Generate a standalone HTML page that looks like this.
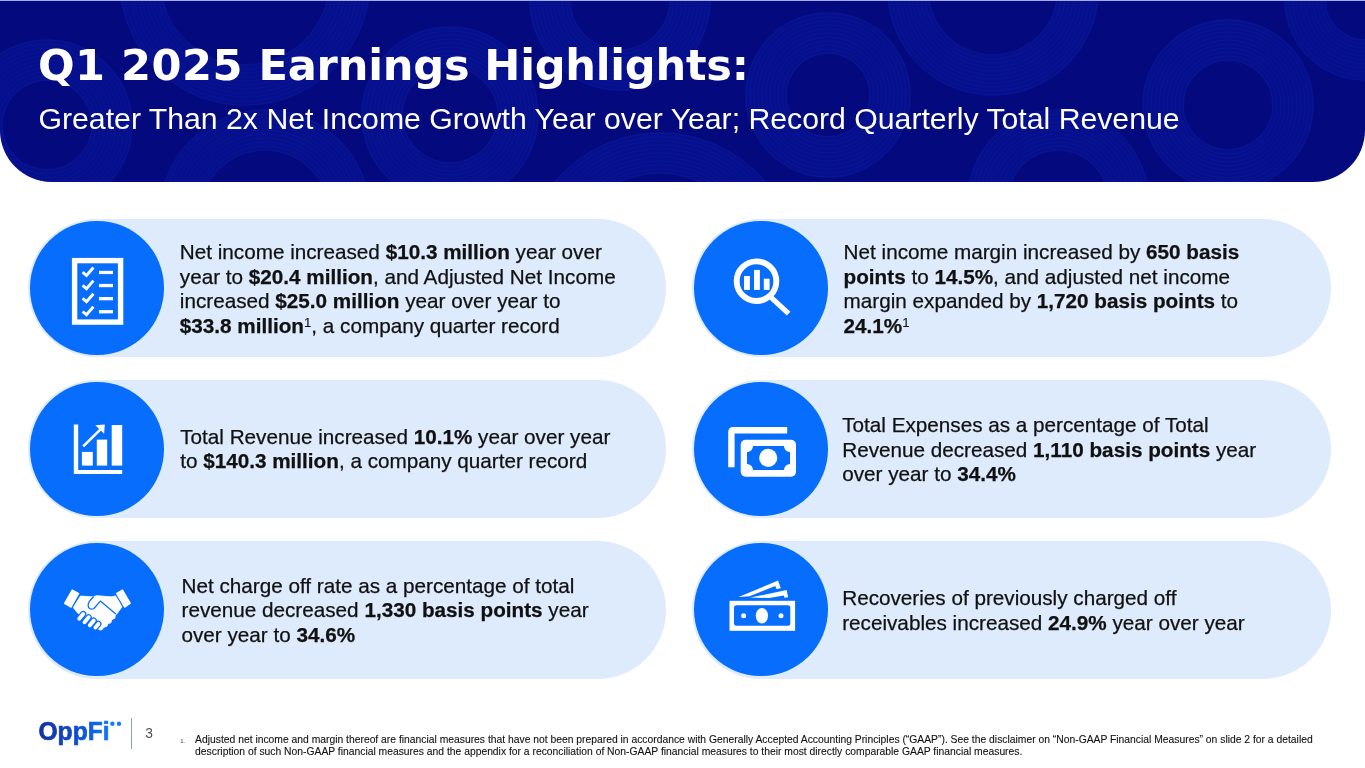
<!DOCTYPE html>
<html lang="en">
<head>
<meta charset="utf-8">
<title>Q1 2025 Earnings Highlights</title>
<style>
html,body{margin:0;padding:0;}
body{width:1365px;height:768px;position:relative;overflow:hidden;background:#fff;font-family:"Liberation Sans",sans-serif;color:#111;}
.hdr{position:absolute;left:0;top:0;width:1365px;height:182.4px;background:#040a7e;border-radius:0 0 52px 52px;overflow:hidden;}
.hdr svg{position:absolute;left:0;top:0;}
h1{position:absolute;left:37.9px;top:38.9px;margin:0;font-family:"DejaVu Sans","Liberation Sans",sans-serif;font-weight:bold;font-size:43.15px;line-height:52px;color:#fff;white-space:nowrap;letter-spacing:0;}
h2{position:absolute;left:38.5px;top:102.2px;margin:0;font-weight:normal;font-size:30.23px;line-height:34px;color:#fff;white-space:nowrap;}
.card{position:absolute;width:637.2px;height:137.3px;background:#deebfc;border-radius:68.65px;}
.circ{position:absolute;width:133.3px;height:133.3px;border-radius:50%;background:#066dfd;}
.txt{position:absolute;font-size:20.7px;line-height:24.77px;white-space:nowrap;color:#111;}
.txt b{font-weight:bold;}
.txt{-webkit-text-stroke:0.25px #111;}
.fn{-webkit-text-stroke:0.1px #111;}
.txt sup{font-size:13.2px;line-height:0;vertical-align:baseline;position:relative;top:-6px;-webkit-text-stroke:0.1px #111;}
#icons{position:absolute;left:0;top:0;}
.logo{position:absolute;left:38px;top:717px;font-weight:bold;font-size:24.5px;line-height:30px;white-space:nowrap;letter-spacing:-0.3px;background:linear-gradient(90deg,#0a2a9c 0%,#0b4fd8 55%,#1a7bff 100%);-webkit-background-clip:text;background-clip:text;color:transparent;}
.vbar{position:absolute;left:131px;top:718px;width:1px;height:31px;background:#8fa0bd;}
.pg{position:absolute;left:145.3px;top:727px;font-size:13.8px;line-height:14px;color:#505050;}
.fnn{position:absolute;left:180.3px;top:736.8px;font-size:6px;line-height:8px;color:#444;}
.fn{position:absolute;left:195.1px;top:734.1px;font-size:10.33px;line-height:12.3px;white-space:nowrap;color:#111;}
</style>
</head>
<body>
<div class="hdr">
<svg width="1365" height="183" viewBox="0 0 1365 183" fill="none">
<g stroke="#0e22ab" stroke-opacity="0.3" stroke-width="42">
<circle cx="47" cy="125" r="65"/>
<circle cx="245" cy="-20" r="105"/>
<circle cx="265" cy="215" r="85"/>
<circle cx="450" cy="115" r="68"/>
<circle cx="620" cy="0" r="70"/>
<circle cx="660" cy="270" r="117"/>
<circle cx="828" cy="95" r="62"/>
<circle cx="993" cy="-10" r="85"/>
<circle cx="1058" cy="200" r="70"/>
<circle cx="1228" cy="105" r="65"/>
<circle cx="1365" cy="0" r="60"/>
</g>
<g stroke="#2435cc" stroke-opacity="0.15" stroke-width="1">
<circle cx="47" cy="125" r="45"/>
<circle cx="47" cy="125" r="49"/>
<circle cx="47" cy="125" r="53"/>
<circle cx="47" cy="125" r="57"/>
<circle cx="47" cy="125" r="61"/>
<circle cx="47" cy="125" r="65"/>
<circle cx="47" cy="125" r="69"/>
<circle cx="47" cy="125" r="73"/>
<circle cx="47" cy="125" r="77"/>
<circle cx="47" cy="125" r="81"/>
<circle cx="47" cy="125" r="85"/>
<circle cx="245" cy="-20" r="85"/>
<circle cx="245" cy="-20" r="89"/>
<circle cx="245" cy="-20" r="93"/>
<circle cx="245" cy="-20" r="97"/>
<circle cx="245" cy="-20" r="101"/>
<circle cx="245" cy="-20" r="105"/>
<circle cx="245" cy="-20" r="109"/>
<circle cx="245" cy="-20" r="113"/>
<circle cx="245" cy="-20" r="117"/>
<circle cx="245" cy="-20" r="121"/>
<circle cx="245" cy="-20" r="125"/>
<circle cx="265" cy="215" r="65"/>
<circle cx="265" cy="215" r="69"/>
<circle cx="265" cy="215" r="73"/>
<circle cx="265" cy="215" r="77"/>
<circle cx="265" cy="215" r="81"/>
<circle cx="265" cy="215" r="85"/>
<circle cx="265" cy="215" r="89"/>
<circle cx="265" cy="215" r="93"/>
<circle cx="265" cy="215" r="97"/>
<circle cx="265" cy="215" r="101"/>
<circle cx="265" cy="215" r="105"/>
<circle cx="450" cy="115" r="48"/>
<circle cx="450" cy="115" r="52"/>
<circle cx="450" cy="115" r="56"/>
<circle cx="450" cy="115" r="60"/>
<circle cx="450" cy="115" r="64"/>
<circle cx="450" cy="115" r="68"/>
<circle cx="450" cy="115" r="72"/>
<circle cx="450" cy="115" r="76"/>
<circle cx="450" cy="115" r="80"/>
<circle cx="450" cy="115" r="84"/>
<circle cx="450" cy="115" r="88"/>
<circle cx="620" cy="0" r="50"/>
<circle cx="620" cy="0" r="54"/>
<circle cx="620" cy="0" r="58"/>
<circle cx="620" cy="0" r="62"/>
<circle cx="620" cy="0" r="66"/>
<circle cx="620" cy="0" r="70"/>
<circle cx="620" cy="0" r="74"/>
<circle cx="620" cy="0" r="78"/>
<circle cx="620" cy="0" r="82"/>
<circle cx="620" cy="0" r="86"/>
<circle cx="620" cy="0" r="90"/>
<circle cx="660" cy="270" r="97"/>
<circle cx="660" cy="270" r="101"/>
<circle cx="660" cy="270" r="105"/>
<circle cx="660" cy="270" r="109"/>
<circle cx="660" cy="270" r="113"/>
<circle cx="660" cy="270" r="117"/>
<circle cx="660" cy="270" r="121"/>
<circle cx="660" cy="270" r="125"/>
<circle cx="660" cy="270" r="129"/>
<circle cx="660" cy="270" r="133"/>
<circle cx="660" cy="270" r="137"/>
<circle cx="828" cy="95" r="42"/>
<circle cx="828" cy="95" r="46"/>
<circle cx="828" cy="95" r="50"/>
<circle cx="828" cy="95" r="54"/>
<circle cx="828" cy="95" r="58"/>
<circle cx="828" cy="95" r="62"/>
<circle cx="828" cy="95" r="66"/>
<circle cx="828" cy="95" r="70"/>
<circle cx="828" cy="95" r="74"/>
<circle cx="828" cy="95" r="78"/>
<circle cx="828" cy="95" r="82"/>
<circle cx="993" cy="-10" r="65"/>
<circle cx="993" cy="-10" r="69"/>
<circle cx="993" cy="-10" r="73"/>
<circle cx="993" cy="-10" r="77"/>
<circle cx="993" cy="-10" r="81"/>
<circle cx="993" cy="-10" r="85"/>
<circle cx="993" cy="-10" r="89"/>
<circle cx="993" cy="-10" r="93"/>
<circle cx="993" cy="-10" r="97"/>
<circle cx="993" cy="-10" r="101"/>
<circle cx="993" cy="-10" r="105"/>
<circle cx="1058" cy="200" r="50"/>
<circle cx="1058" cy="200" r="54"/>
<circle cx="1058" cy="200" r="58"/>
<circle cx="1058" cy="200" r="62"/>
<circle cx="1058" cy="200" r="66"/>
<circle cx="1058" cy="200" r="70"/>
<circle cx="1058" cy="200" r="74"/>
<circle cx="1058" cy="200" r="78"/>
<circle cx="1058" cy="200" r="82"/>
<circle cx="1058" cy="200" r="86"/>
<circle cx="1058" cy="200" r="90"/>
<circle cx="1228" cy="105" r="45"/>
<circle cx="1228" cy="105" r="49"/>
<circle cx="1228" cy="105" r="53"/>
<circle cx="1228" cy="105" r="57"/>
<circle cx="1228" cy="105" r="61"/>
<circle cx="1228" cy="105" r="65"/>
<circle cx="1228" cy="105" r="69"/>
<circle cx="1228" cy="105" r="73"/>
<circle cx="1228" cy="105" r="77"/>
<circle cx="1228" cy="105" r="81"/>
<circle cx="1228" cy="105" r="85"/>
<circle cx="1365" cy="0" r="40"/>
<circle cx="1365" cy="0" r="44"/>
<circle cx="1365" cy="0" r="48"/>
<circle cx="1365" cy="0" r="52"/>
<circle cx="1365" cy="0" r="56"/>
<circle cx="1365" cy="0" r="60"/>
<circle cx="1365" cy="0" r="64"/>
<circle cx="1365" cy="0" r="68"/>
<circle cx="1365" cy="0" r="72"/>
<circle cx="1365" cy="0" r="76"/>
<circle cx="1365" cy="0" r="80"/>
</g>
<rect x="0" y="0" width="1365" height="1" fill="#a3a9fb" stroke="none"/>
</svg>
<h1><span style="letter-spacing:.46px">Q1 2025 </span><span style="letter-spacing:-.19px">Earnings </span><span style="letter-spacing:-.26px">Highlights:</span></h1>
<h2>Greater Than 2x Net Income Growth Year over Year; Record Quarterly Total Revenue</h2>
</div>

<div class="card" style="left:28.4px;top:219.45px"></div>
<div class="card" style="left:28.4px;top:380.4px"></div>
<div class="card" style="left:28.4px;top:541.4px"></div>
<div class="card" style="left:692.4px;top:219.45px;width:638.5px"></div>
<div class="card" style="left:692.4px;top:380.4px;width:638.5px"></div>
<div class="card" style="left:692.4px;top:541.4px;width:638.5px"></div>

<div class="circ" style="left:30.4px;top:221.4px"></div>
<div class="circ" style="left:30.4px;top:382.3px"></div>
<div class="circ" style="left:30.4px;top:543.2px"></div>
<div class="circ" style="left:694.4px;top:221.4px"></div>
<div class="circ" style="left:694.4px;top:382.3px"></div>
<div class="circ" style="left:694.4px;top:543.2px"></div>

<div class="txt" style="left:179.8px;top:239.9px">Net income increased <b>$10.3 million</b> year over<br>year to <b>$20.4 million</b>, and Adjusted Net Income<br>increased <b>$25.0 million</b> year over year to<br><b>$33.8 million</b><sup>1</sup>, a company quarter record</div>
<div class="txt" style="left:180.2px;top:424.7px">Total Revenue increased <b>10.1%</b> year over year<br>to <b>$140.3 million</b>, a company quarter record</div>
<div class="txt" style="left:181.5px;top:573.7px">Net charge off rate as a percentage of total<br>revenue decreased <b>1,330 basis points</b> year<br>over year to <b>34.6%</b></div>
<div class="txt" style="left:843.6px;top:239.85px">Net income margin increased by <b>650 basis<br>points</b> to <b>14.5%</b>, and adjusted net income<br>margin expanded by <b>1,720 basis points</b> to<br><b>24.1%</b><sup>1</sup></div>
<div class="txt" style="left:842.2px;top:412.8px">Total Expenses as a percentage of Total<br>Revenue decreased <b>1,110 basis points</b> year<br>over year to <b>34.4%</b></div>
<div class="txt" style="left:842.2px;top:586.15px">Recoveries of previously charged off<br>receivables increased <b>24.9%</b> year over year</div>

<svg id="icons" width="1365" height="768" viewBox="0 0 1365 768" fill="#fff">
<!-- checklist -->
<g>
<rect x="74.6" y="260.6" width="46" height="61.5" fill="none" stroke="#fff" stroke-width="5.4"/>
<g fill="none" stroke="#fff" stroke-width="2.9">
<path d="M82.6 272.2l3.9 3.3 6.9-8"/>
<path d="M82.6 285.3l3.9 3.3 6.9-8"/>
<path d="M82.6 298.4l3.9 3.3 6.9-8"/>
<path d="M82.6 311.5l3.9 3.3 6.9-8"/>
</g>
<rect x="99" y="270.8" width="14" height="3.3"/>
<rect x="99" y="283.9" width="14" height="3.3"/>
<rect x="99" y="297" width="14" height="3.3"/>
<rect x="99" y="310.1" width="14" height="3.3"/>
</g>
<!-- bar chart -->
<g>
<path d="M73.8 424.6h4.4v45.4h44v4.1h-48.4z"/>
<rect x="81.9" y="451.9" width="10.9" height="13.7"/>
<rect x="96.8" y="439.6" width="10.4" height="26"/>
<rect x="111.7" y="425" width="10.5" height="40.6"/>
<path d="M83.2 446.4L100.5 429.4" stroke="#fff" stroke-width="2.6" fill="none"/>
<path d="M95.3 425.2l9.5-.6-.7 9.1z"/>
</g>
<!-- handshake -->
<g transform="translate(57,580) scale(0.078125)">
<path d="M300 205L460 215 510 200 600 208 700 215 765 200 835 340 765 435 748 445 740 490 700 510 690 548 650 560 640 592 600 605 572 640 540 636 270 430 205 350z" stroke="#fff" stroke-width="10" stroke-linejoin="round"/>
<path d="M195 128L277 174 180 347 98 298z" stroke="#fff" stroke-width="18" stroke-linejoin="round"/>
<path d="M838 128L937 298 865 347 763 174z" stroke="#fff" stroke-width="18" stroke-linejoin="round"/>
<path d="M291 182L194 355M749.3 182.2L851.3 355.2" fill="none" stroke="#066dfd" stroke-width="13"/>
<path d="M470 212C430 250 400 290 398 322C397 360 432 382 470 368L555 270 752 434" fill="none" stroke="#066dfd" stroke-width="16" stroke-linejoin="round"/>
<g stroke-linecap="round" fill="none">
<path d="M335 435L285 495M405 478L352 540M470 520L420 580M530 562L492 608" stroke="#066dfd" stroke-width="80"/>
<path d="M335 435L285 495M405 478L352 540M470 520L420 580M530 562L492 608" stroke="#fff" stroke-width="50"/>
</g>
</g>
<!-- magnifier -->
<g>
<circle cx="756.5" cy="281.2" r="19.8" fill="none" stroke="#fff" stroke-width="5.9"/>
<path d="M771 297.4L788.6 313.6" stroke="#fff" stroke-width="5.2" fill="none"/>
<rect x="744" y="276" width="5.9" height="13.9"/>
<rect x="754" y="269.9" width="5.9" height="20"/>
<rect x="763.8" y="278.7" width="5.8" height="11.2"/>
</g>
<!-- cash stack -->
<g>
<path d="M731.4 467.2V432.3Q731.4 430.3 733.4 430.3H787.2" fill="none" stroke="#fff" stroke-width="6.4"/>
<rect x="740.7" y="439.7" width="55.3" height="37.1" rx="5" ry="5"/>
<path d="M753 446H784A6 6 0 0 0 790 452.2V464A6 6 0 0 0 784 470H753A6 6 0 0 0 747 464V452.2A6 6 0 0 0 753 446z" fill="#066dfd"/>
<circle cx="768.2" cy="457.9" r="9.1"/>
</g>
<!-- money -->
<g>
<rect x="729.5" y="600.8" width="65.6" height="30"/>
<rect x="734" y="605.3" width="56.3" height="20.5" rx="2.5" ry="2.5" fill="#066dfd"/>
<ellipse cx="761.9" cy="615.7" rx="6.1" ry="7.7"/>
<circle cx="743.6" cy="615.7" r="2.5"/>
<circle cx="781" cy="615.7" r="2.5"/>
<path d="M738.5 597L778 580.6 780.8 588.2 776.4 588.9 775.3 586 749.5 596.2z"/>
<path d="M750.2 597.6L786.7 590 788.1 597.3 784.4 597.8 783.9 595.5 769 598z"/>
</g>
</svg>

<svg class="logosvg" width="140" height="50" viewBox="30 710 140 50" style="position:absolute;left:30px;top:710px;overflow:visible">
<defs><linearGradient id="lg" gradientUnits="userSpaceOnUse" x1="38" y1="0" x2="122" y2="0"><stop offset="0" stop-color="#16309f"/><stop offset="0.45" stop-color="#0f4ccf"/><stop offset="0.8" stop-color="#1070f5"/><stop offset="1" stop-color="#1a7cff"/></linearGradient></defs>
<text x="38.5" y="740.3" font-family="Liberation Sans, sans-serif" font-weight="bold" font-size="26.6" textLength="71" lengthAdjust="spacingAndGlyphs" fill="url(#lg)" stroke="url(#lg)" stroke-width="0.7">OppFi</text>
<circle cx="112.4" cy="723.7" r="2.2" fill="#1877fb"/>
<circle cx="119" cy="723.7" r="2.2" fill="#1a7cff"/>
</svg>
<div class="vbar"></div>
<div class="pg">3</div>
<div class="fnn">1.</div>
<div class="fn">Adjusted net income and margin thereof are financial measures that have not been prepared in accordance with Generally Accepted Accounting Principles (“GAAP”). See the disclaimer on “Non-GAAP Financial Measures” on slide 2 for a detailed<br>description of such Non-GAAP financial measures and the appendix for a reconciliation of Non-GAAP financial measures to their most directly comparable GAAP financial measures.</div>
</body>
</html>
